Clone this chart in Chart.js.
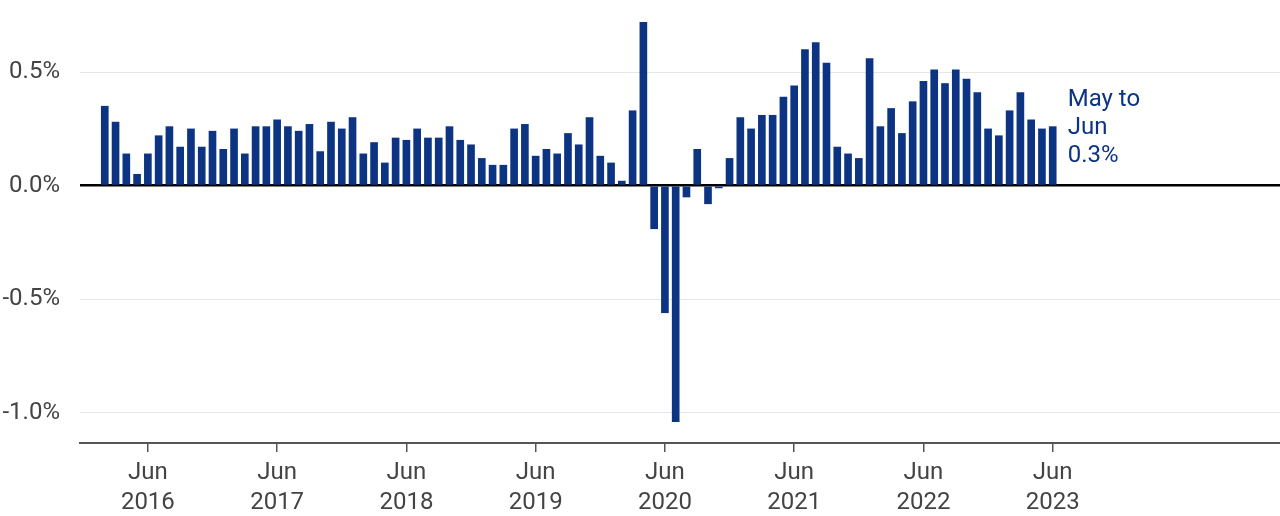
<!DOCTYPE html>
<html>
<head>
<meta charset="utf-8">
<script src="https://cdn.jsdelivr.net/npm/chart.js@4"></script>
<style>
  html, body { margin: 0; padding: 0; background: #fff; }
  #wrap { width: 1280px; height: 516px; position: relative; }
</style>
</head>
<body>
<div id="wrap"><canvas id="chart"></canvas></div>
<script>
/* DATA: monthly change, Feb 2016 .. Jun 2023 */
const firstYear = 2016;
const firstMonth = 1; // Feb
const monthNames = ['Jan', 'Feb', 'Mar', 'Apr', 'May', 'Jun', 'Jul', 'Aug', 'Sep', 'Oct', 'Nov', 'Dec'];

const values = [
  0.35, 0.28, 0.14, 0.05, 0.14, 0.22, 0.26, 0.17, 0.25, 0.17, 0.24,       // 2016 Feb-Dec
  0.16, 0.25, 0.14, 0.26, 0.26, 0.29, 0.26, 0.24, 0.27, 0.15, 0.28, 0.25, // 2017
  0.30, 0.14, 0.19, 0.10, 0.21, 0.20, 0.25, 0.21, 0.21, 0.26, 0.20, 0.18, // 2018
  0.12, 0.09, 0.09, 0.25, 0.27, 0.13, 0.16, 0.14, 0.23, 0.18, 0.30, 0.13, // 2019
  0.10, 0.02, 0.33, 0.72, -0.19, -0.56, -1.04, -0.05, 0.16, -0.08, -0.01, 0.12, // 2020
  0.30, 0.25, 0.31, 0.31, 0.39, 0.44, 0.60, 0.63, 0.54, 0.17, 0.14, 0.12, // 2021
  0.56, 0.26, 0.34, 0.23, 0.37, 0.46, 0.51, 0.45, 0.51, 0.47, 0.41, 0.25, // 2022
  0.22, 0.33, 0.41, 0.29, 0.25, 0.26                                      // 2023 Jan-Jun
];

const yTicks = [-1.0, -0.5, 0.0, 0.5];
const noteLines = ['May to', 'Jun', '0.3%'];

/* month labels for each bar */
const months = values.map((_, i) => {
  const m = (firstMonth + i) % 12;
  const y = firstYear + Math.floor((firstMonth + i) / 12);
  return monthNames[m] + ' ' + y;
});
const junIdx = months.map((m, i) => (m.startsWith('Jun') ? i : -1)).filter((i) => i >= 0);

/* COLORS */
const navy = '#0c3483';
const textGray = '#444';
const gridGray = '#e6e6e6';

/* PLUGIN: end note */
const endNote = {
  id: 'endNote',
  afterDatasetsDraw(chart) {
    const ctx = chart.ctx;
    const xs = chart.scales.x;
    const ys = chart.scales.y;
    const x = xs.getPixelForValue(values.length - 1) + 15;
    const y0 = ys.getPixelForValue(0) - 86;
    ctx.save();
    ctx.font = '24px Roboto';
    ctx.fillStyle = navy;
    ctx.textAlign = 'left';
    ctx.textBaseline = 'middle';
    noteLines.forEach((t, i) => ctx.fillText(t, x, y0 + i * 28));
    ctx.restore();
  },
};

new Chart(document.getElementById('chart'), {
  type: 'bar',
  data: {
    datasets: [
      {
        data: values.map((v, i) => ({ x: i, y: v })),
        backgroundColor: navy,
        borderWidth: 0,
        barThickness: 7,
      },
    ],
  },
  options: {
    responsive: true,
    maintainAspectRatio: false,
    animation: false,
    layout: { padding: 0 },
    plugins: {
      legend: { display: false },
      tooltip: { enabled: false },
    },
    scales: {
      x: {
        type: 'linear',
        offset: false,
        min: -2.3,
        max: 109.1,
        afterBuildTicks(scale) {
          scale.ticks = junIdx.map((v) => ({ value: v }));
        },
        afterFit(scale) {
          scale.height = 73;
          scale.paddingLeft = 0;
          scale.paddingRight = 0;
          scale.paddingTop = 0;
          scale.paddingBottom = 0;
        },
        grid: {
          offset: false,
          drawOnChartArea: false,
          drawTicks: true,
          tickLength: 9,
          color: '#555',
          lineWidth: 1.5,
        },
        border: { display: true, color: '#555', width: 2 },
        ticks: {
          autoSkip: false,
          maxRotation: 0,
          padding: 6,
          color: textGray,
          font: { family: 'Roboto', size: 24, lineHeight: 1.25 },
          callback: (v) => months[v].split(' '),
        },
      },
      y: {
        min: -1.134,
        max: 0.818,
        afterBuildTicks(scale) {
          scale.ticks = yTicks.map((v) => ({ value: v }));
        },
        afterFit(scale) {
          scale.width = 80;
          scale.paddingTop = 0;
          scale.paddingBottom = 0;
        },
        border: { display: false },
        grid: {
          drawTicks: false,
          color: (c) => (c.tick && c.tick.value === 0 ? '#000' : gridGray),
          lineWidth: (c) => (c.tick && c.tick.value === 0 ? 2.5 : 1),
        },
        ticks: {
          padding: 20,
          color: textGray,
          font: { family: 'Roboto', size: 24 },
          callback: (v) => v.toFixed(1) + '%',
        },
      },
    },
  },
  plugins: [endNote],
});
</script>
</body>
</html>
